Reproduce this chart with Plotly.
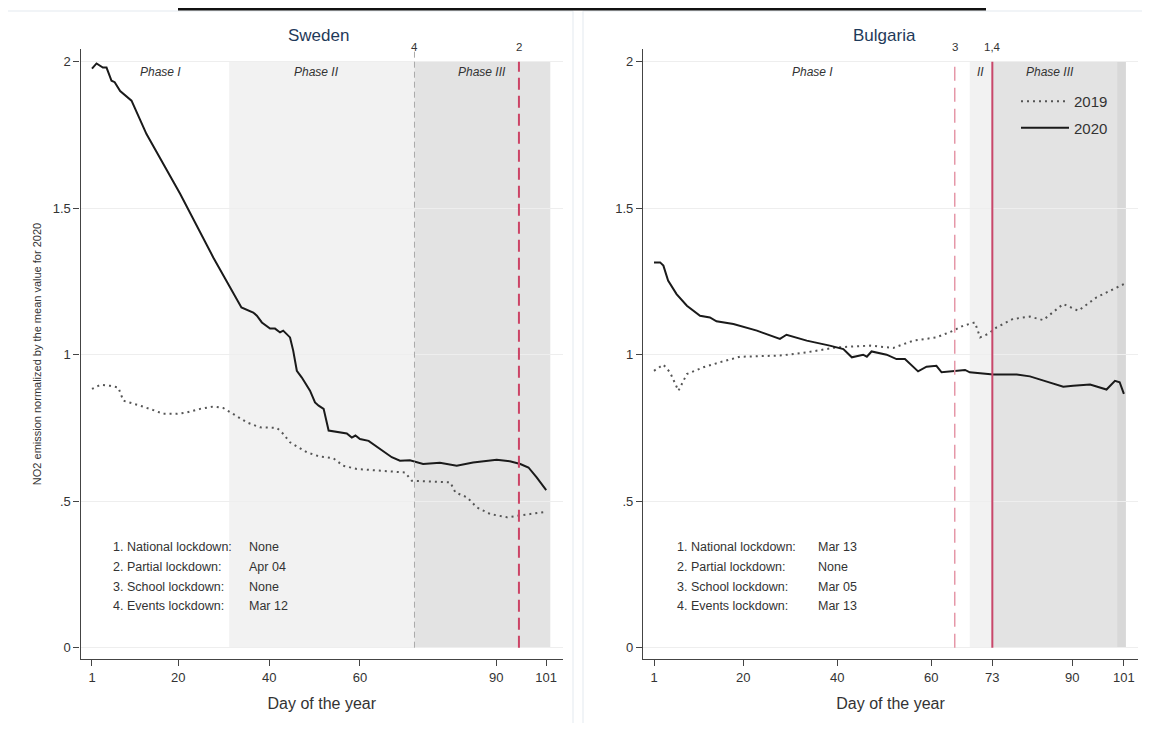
import plotly.graph_objects as go

# ---------------- data ----------------
sw20_day = [1, 2, 3.4, 4.2, 5.3, 6, 7.2, 9, 9.7, 13, 20.4, 27.7, 33.9, 36.5, 37.3, 38.4, 40.2,
            41.3, 42.4, 43.1, 44.6, 45.3, 46.1, 47.2, 49, 50.1, 50.9, 52, 53.1, 57.1, 58.2, 59,
            60, 61.9, 64.4, 67, 68.8, 71, 73.9, 77.6, 81.3, 84.9, 90.1, 93, 95.3, 97.1, 98.9, 101]
sw20_val = [1.976, 1.994, 1.98, 1.98, 1.935, 1.93, 1.90, 1.878, 1.867, 1.753, 1.549, 1.332,
            1.161, 1.144, 1.133, 1.11, 1.089, 1.089, 1.076, 1.082, 1.059, 1.014, 0.945, 0.922,
            0.877, 0.837, 0.826, 0.815, 0.741, 0.731, 0.717, 0.724, 0.712, 0.706, 0.678, 0.65,
            0.638, 0.64, 0.627, 0.631, 0.621, 0.632, 0.641, 0.636, 0.627, 0.615, 0.581, 0.538]

sw19_day = [1, 2.8, 5, 6.8, 7.9, 9.4, 11.6, 14.5, 16.7, 19.7, 21.9, 24.8, 27.7, 29.9, 32.1,
            35.1, 38, 41.7, 42.8, 44.6, 48.3, 51.2, 54.1, 56.3, 59.3, 64.4, 69.9, 71.4, 74.7,
            79.9, 81, 83.6, 85.7, 88.7, 92.4, 95.3, 98.2, 101]
sw19_val = [0.883, 0.897, 0.894, 0.888, 0.843, 0.837, 0.826, 0.811, 0.798, 0.798, 0.803,
            0.815, 0.823, 0.818, 0.798, 0.769, 0.752, 0.75, 0.735, 0.701, 0.667, 0.652, 0.647,
            0.621, 0.61, 0.604, 0.598, 0.57, 0.568, 0.564, 0.53, 0.513, 0.479, 0.456, 0.445,
            0.451, 0.458, 0.464]

bg20_day = [1, 2.3, 3, 4, 5.8, 8, 10.8, 12.9, 14.3, 17.9, 22.9, 27.8, 29.2, 33.5, 38.4, 41.3,
            43.1, 45.5, 46.3, 47.3, 50.5, 52.6, 54.4, 57.2, 59, 61.1, 62.2, 64.7, 67.2, 68.2,
            73.2, 78.2, 81, 84.6, 88.1, 90.2, 93.8, 97.3, 99.1, 100.1, 101]
bg20_val = [1.315, 1.315, 1.304, 1.253, 1.207, 1.167, 1.133, 1.127, 1.114, 1.105, 1.082,
            1.054, 1.068, 1.048, 1.031, 1.019, 0.991, 1.0, 0.993, 1.011, 1.0, 0.985, 0.985,
            0.943, 0.959, 0.962, 0.94, 0.945, 0.948, 0.94, 0.932, 0.932, 0.926, 0.908, 0.891,
            0.894, 0.898, 0.881, 0.911, 0.906, 0.866]

bg19_day = [1, 3, 4.4, 6.2, 8, 11.5, 15, 19.3, 27.8, 33.5, 39.9, 47, 51.9, 56.2, 61.1, 64.7,
            66.8, 69.3, 70.4, 72.1, 73.9, 77.4, 81, 83.8, 88.1, 91.3, 95.2, 101]
bg19_val = [0.945, 0.966, 0.94, 0.877, 0.934, 0.957, 0.974, 0.993, 0.997, 1.008, 1.025,
            1.031, 1.023, 1.048, 1.059, 1.082, 1.099, 1.11, 1.059, 1.071, 1.093, 1.122, 1.13,
            1.118, 1.173, 1.15, 1.196, 1.241]

countries = ["Sweden", "Bulgaria"]
y_ticks = [0, 0.5, 1, 1.5, 2]
y_ticktext = ["0", ".5", "1", "1.5", "2"]
sw_xticks = [1, 20, 40, 60, 90, 101]
bg_xticks = [1, 20, 40, 60, 73, 90, 101]

# phases (day boundaries)
sw_phase2 = [31.2, 72]
sw_phase3 = [72, 101.9]
bg_phase2 = [68.2, 73]
bg_phase3 = [73, 101.4]
bg_phase3_edge = [99.6, 101.4]

# lockdown event days
sw_events = {"4": 72, "2": 95}
bg_events = {"3": 65, "1,4": 73}

lock_labels = ["1. National lockdown:", "2. Partial lockdown:", "3. School lockdown:", "4. Events lockdown:"]
sw_lock_dates = ["None", "Apr 04", "None", "Mar 12"]
bg_lock_dates = ["Mar 13", "None", "Mar 05", "Mar 13"]

# ---------------- figure ----------------
OFF = 8                     # page body margin
W, H = 1150 - 2 * OFF, 731 - 2 * OFF
FONT = "Liberation Sans, Arial, sans-serif"
TXT = "#333333"

def px(x):
    return (x - OFF) / W

def py(y):
    return 1 - (y - OFF) / H

fig = go.Figure()

fig.add_trace(go.Scatter(x=sw19_day, y=sw19_val, mode="lines", xaxis="x", yaxis="y",
                         line=dict(color="#555555", width=2, dash="2px,4px"), showlegend=False))
fig.add_trace(go.Scatter(x=sw20_day, y=sw20_val, mode="lines", xaxis="x", yaxis="y",
                         line=dict(color="#1a1a1a", width=2), showlegend=False))
fig.add_trace(go.Scatter(x=bg19_day, y=bg19_val, mode="lines", xaxis="x2", yaxis="y2", name="2019",
                         legendgroup="a", line=dict(color="#555555", width=2, dash="2px,4px"),
                         showlegend=True))
fig.add_trace(go.Scatter(x=bg20_day, y=bg20_val, mode="lines", xaxis="x2", yaxis="y2", name="2020",
                         legendgroup="b", line=dict(color="#1a1a1a", width=2), showlegend=True))

yb, yt = 659, 49
dom_y = [py(yb), py(yt)]
yrange = [-0.0386, 2.0433]

axis_common = dict(showline=True, linecolor="#444444", linewidth=1.2, ticks="outside",
                   ticklen=6, tickcolor="#444444", tickfont=dict(family=FONT, size=13, color=TXT),
                   zeroline=False)

fig.update_layout(
    width=W, height=H, margin=dict(l=0, r=0, t=0, b=0),
    paper_bgcolor="white", plot_bgcolor="white",
    font=dict(family=FONT, color=TXT),
    xaxis=dict(domain=[px(80.5), px(563)], range=[-1.53, 104.7], tickvals=sw_xticks,
               showgrid=False, anchor="y",
               title=dict(text="Day of the year", font=dict(family=FONT, size=16, color=TXT), standoff=14),
               **axis_common),
    yaxis=dict(domain=dom_y, range=yrange, tickvals=y_ticks, ticktext=y_ticktext,
               showgrid=True, gridcolor="#eeeeee", gridwidth=1, anchor="x",
               title=dict(text="NO2 emission normalized by the mean value for 2020",
                          font=dict(family=FONT, size=11, color=TXT), standoff=8),
               **axis_common),
    xaxis2=dict(domain=[px(643), px(1138)], range=[-1.34, 104.0], tickvals=bg_xticks,
                showgrid=False, anchor="y2",
                title=dict(text="Day of the year", font=dict(family=FONT, size=16, color=TXT), standoff=14),
                **axis_common),
    yaxis2=dict(domain=dom_y, range=yrange, tickvals=y_ticks, ticktext=y_ticktext,
                showgrid=True, gridcolor="#eeeeee", gridwidth=1, anchor="x2",
                **axis_common),
    legend=dict(x=px(1016), y=py(85), xanchor="left", yanchor="top", traceorder="grouped",
                bgcolor="rgba(0,0,0,0)", font=dict(family=FONT, size=15, color=TXT),
                itemwidth=48, tracegroupgap=4),
)

shapes = []
# panel borders
shapes.append(dict(type="rect", xref="paper", yref="paper", x0=px(7), x1=px(573), y0=py(729), y1=py(11),
                   line=dict(color="#e3e9ef", width=1), layer="below"))
shapes.append(dict(type="rect", xref="paper", yref="paper", x0=px(583), x1=px(1148), y0=py(729), y1=py(11),
                   line=dict(color="#e3e9ef", width=1), layer="below"))
# cut-off header remnant at top edge
shapes.append(dict(type="line", xref="paper", yref="paper", x0=px(178), x1=px(986), y0=py(9), y1=py(9),
                   line=dict(color="#111111", width=3)))

def rect(xa, ya, x0, x1, color):
    return dict(type="rect", xref=xa, yref=ya, x0=x0, x1=x1, y0=0, y1=2,
                fillcolor=color, line=dict(width=0), layer="below")

shapes.append(rect("x", "y", sw_phase2[0], sw_phase2[1], "#f2f2f2"))
shapes.append(rect("x", "y", sw_phase3[0], sw_phase3[1], "#e3e3e3"))
shapes.append(rect("x2", "y2", bg_phase2[0], bg_phase2[1], "#f2f2f2"))
shapes.append(rect("x2", "y2", bg_phase3[0], bg_phase3[1], "#e3e3e3"))
shapes.append(rect("x2", "y2", bg_phase3_edge[0], bg_phase3_edge[1], "#d8d8d8"))

# event lines
shapes.append(dict(type="line", xref="x", yref="y", x0=sw_events["4"], x1=sw_events["4"], y0=0, y1=2.04,
                   line=dict(color="#aaaaaa", width=1, dash="6px,4px")))
shapes.append(dict(type="line", xref="x", yref="y", x0=sw_events["2"], x1=sw_events["2"], y0=0, y1=2,
                   line=dict(color="#cc4466", width=2, dash="12px,6px")))
shapes.append(dict(type="line", xref="x2", yref="y2", x0=bg_events["3"], x1=bg_events["3"], y0=0, y1=2,
                   line=dict(color="#e597a8", width=1.5, dash="14px,7px")))
shapes.append(dict(type="line", xref="x2", yref="y2", x0=bg_events["1,4"], x1=bg_events["1,4"], y0=0, y1=2,
                   line=dict(color="#c8476a", width=2)))
fig.update_layout(shapes=shapes)

ann = []
def note(text, x, y, xref="paper", font=None, xanchor="center"):
    ann.append(dict(text=text, x=x, y=y, xref=xref, yref="paper", showarrow=False,
                    xanchor=xanchor, yanchor="middle", font=font))

title_font = dict(family=FONT, size=17, color="#1f3a5a")
note(countries[0], px(318), py(36), font=title_font)
note(countries[1], px(884), py(36), font=title_font)

ev_font = dict(family=FONT, size=11.5, color=TXT)
for lab, d in sw_events.items():
    note(lab, d, py(47), xref="x", font=ev_font)
for lab, d in bg_events.items():
    note(lab, d, py(47), xref="x2", font=ev_font)

phase_font = dict(family=FONT, size=12, color=TXT)
for t, xpix in [("<i>Phase I</i>", 160), ("<i>Phase II</i>", 316), ("<i>Phase III</i>", 482),
                ("<i>Phase I</i>", 812), ("<i>II</i>", 980), ("<i>Phase III</i>", 1050)]:
    note(t, px(xpix), py(72), font=phase_font)

lock_font = dict(family=FONT, size=12.5, color=TXT)
rows_y = [547, 567, 587, 606]
for i, lab in enumerate(lock_labels):
    note(lab, px(111), py(rows_y[i]), font=lock_font, xanchor="left")
    note(sw_lock_dates[i], px(247), py(rows_y[i]), font=lock_font, xanchor="left")
    note(lab, px(675), py(rows_y[i]), font=lock_font, xanchor="left")
    note(bg_lock_dates[i], px(816), py(rows_y[i]), font=lock_font, xanchor="left")
fig.update_layout(annotations=ann)

fig.write_html("out.html")
